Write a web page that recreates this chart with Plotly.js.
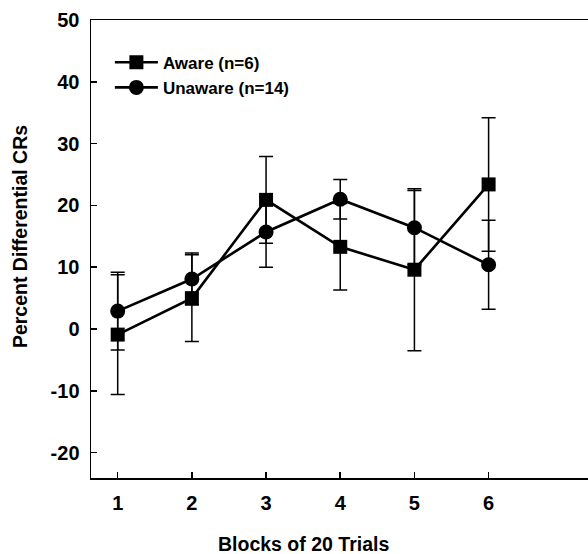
<!DOCTYPE html>
<html>
<head>
<meta charset="utf-8">
<script src="https://cdn.plot.ly/plotly-3.0.1.min.js"></script>
<style>html,body{margin:0;padding:0;background:#fff;}#chart{width:588px;height:554px;}</style>
</head>
<body>
<div id="chart"></div>
<script>
var blocks = [1, 2, 3, 4, 5, 6];
var tickLabels = ['1', '2', '3', '4', '5', '6'];
var awareMean = [-0.9, 5.0, 20.9, 13.3, 9.6, 23.4];
var awareErr = [9.7, 7.0, 7.0, 7.0, 13.1, 10.8];
var unawareMean = [2.9, 8.1, 15.7, 21.0, 16.4, 10.4];
var unawareErr = [6.3, 4.2, 5.7, 3.2, 6.0, 7.2];
var yTicks = [-20, -10, 0, 10, 20, 30, 40, 50];
var yTickLabels = ['-20', '-10', '0', '10', '20', '30', '40', '50'];

var FONT = '"Liberation Sans", Arial, Helvetica, sans-serif';

var traces = [
  {
    x: blocks, y: awareMean, name: 'Aware (n=6)', type: 'scatter', mode: 'lines+markers',
    line: {color: '#000', width: 2.6},
    marker: {symbol: 'square', size: 14, color: '#000'},
    error_y: {type: 'data', array: awareErr, visible: true, color: '#000', thickness: 1.5, width: 7}
  },
  {
    x: blocks, y: unawareMean, name: 'Unaware (n=14)', type: 'scatter', mode: 'lines+markers',
    line: {color: '#000', width: 2.6},
    marker: {symbol: 'circle', size: 15, color: '#000'},
    error_y: {type: 'data', array: unawareErr, visible: true, color: '#000', thickness: 1.5, width: 7}
  }
];

var layout = {
  width: 588, height: 554,
  margin: {l: 91, r: 0, t: 20, b: 76, pad: 0},
  paper_bgcolor: '#fff', plot_bgcolor: '#fff',
  font: {family: FONT, size: 20, color: '#000', weight: 'bold'},
  showlegend: true,
  legend: {
    x: 0.038, y: 0.946, xanchor: 'left', yanchor: 'top',
    bgcolor: 'rgba(0,0,0,0)', borderwidth: 0,
    font: {family: FONT, size: 17, color: '#000', weight: 'bold'},
    itemwidth: 43, tracegroupgap: 0
  },
  xaxis: {
    range: [0.64, 7.34], tickvals: blocks, ticktext: tickLabels,
    showgrid: false, zeroline: false, showline: true, linecolor: '#000', linewidth: 1.5,
    mirror: true, ticks: 'inside', ticklen: 6, tickwidth: 1.5, tickcolor: '#000',
    ticklabelstandoff: 6,
    tickfont: {family: FONT, size: 20, color: '#000', weight: 'bold'}
  },
  yaxis: {
    range: [-24.1, 50], tickvals: yTicks, ticktext: yTickLabels,
    showgrid: false, zeroline: false, showline: true, linecolor: '#000', linewidth: 1.5,
    ticks: 'inside', ticklen: 6, tickwidth: 1.5, tickcolor: '#000',
    ticklabelstandoff: 6,
    tickfont: {family: FONT, size: 20, color: '#000', weight: 'bold'}
  },
  annotations: [
    {text: 'Percent Differential CRs', xref: 'paper', yref: 'paper', x: -0.143, y: 0.528,
     xanchor: 'center', yanchor: 'middle', textangle: -90, showarrow: false,
     font: {family: FONT, size: 19.5, color: '#000', weight: 'bold'}},
    {text: 'Blocks of 20 Trials', xref: 'paper', yref: 'paper', x: 0.4266, y: -0.144,
     xanchor: 'center', yanchor: 'middle', showarrow: false,
     font: {family: FONT, size: 19.5, color: '#000', weight: 'bold'}}
  ]
};

Plotly.newPlot('chart', traces, layout, {displayModeBar: false, staticPlot: true});
</script>
</body>
</html>
